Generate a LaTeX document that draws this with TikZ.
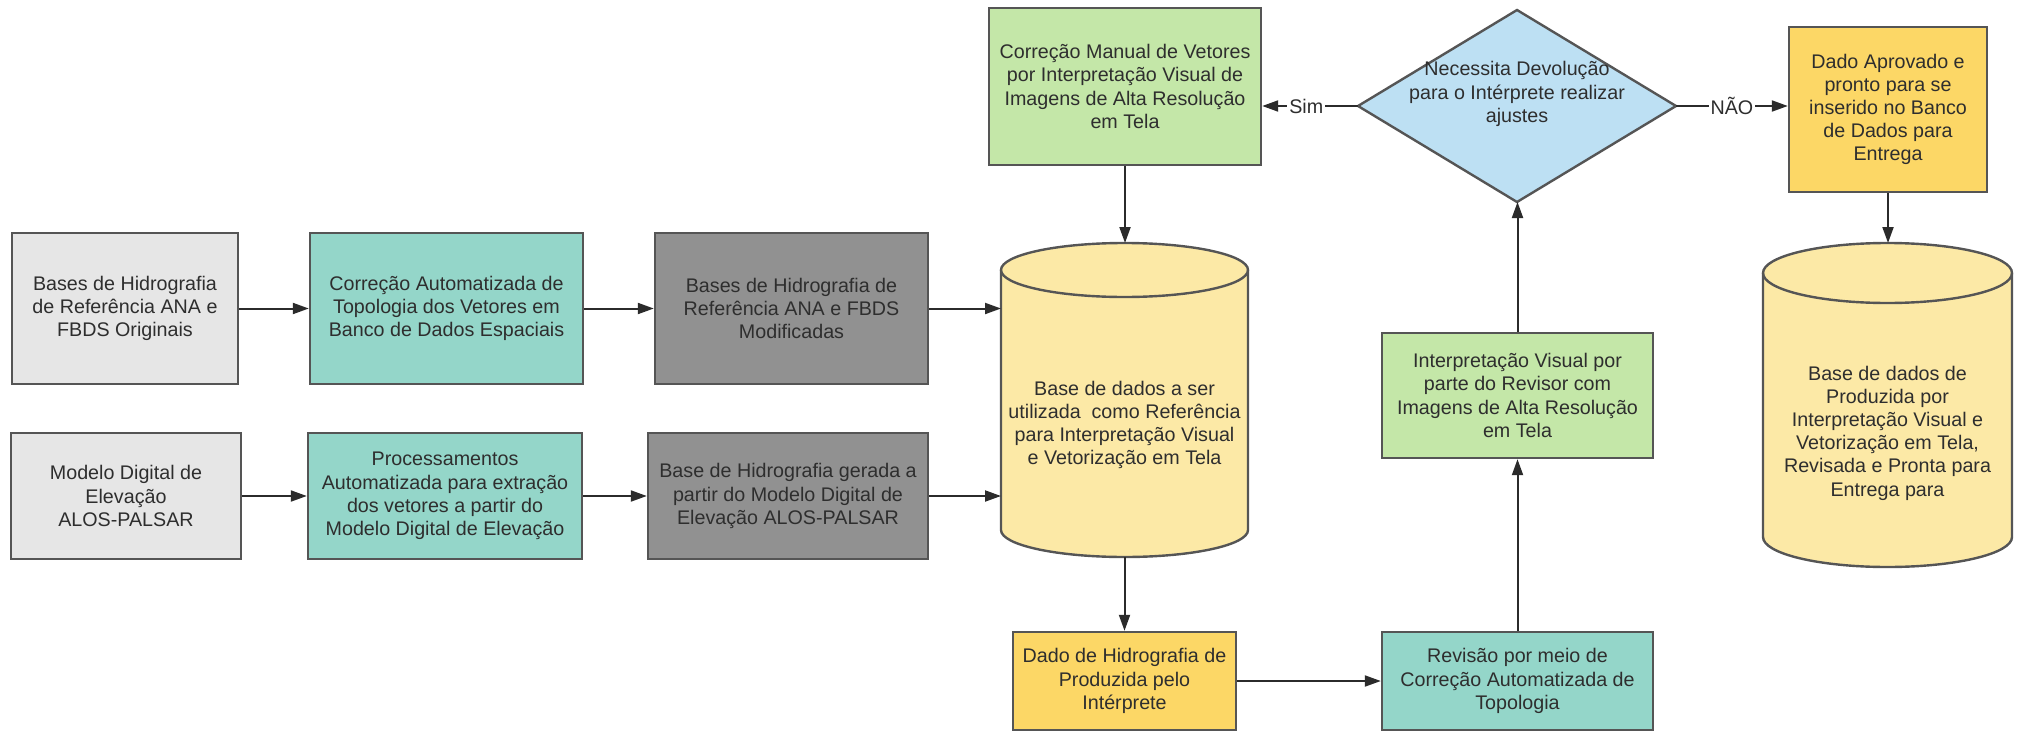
\documentclass[tikz,border=0pt]{standalone}
\usepackage{fontspec}
\setmainfont{Liberation Sans}
\usetikzlibrary{arrows.meta}
\definecolor{grayL}{HTML}{E6E6E6}
\definecolor{grayD}{HTML}{919191}
\definecolor{tealc}{HTML}{94D6C9}
\definecolor{cylY}{HTML}{FCE9A6}
\definecolor{greenc}{HTML}{C4E7A8}
\definecolor{bluec}{HTML}{BDE0F3}
\definecolor{goldc}{HTML}{FCD766}
\definecolor{bordc}{HTML}{555555}
\definecolor{linec}{HTML}{2B2B2B}
\definecolor{txtc}{HTML}{2E2E2E}
\begin{document}
\begin{tikzpicture}[x=0.5pt,y=-0.5pt,
  txt/.style={align=center, text=txtc, font=\fontsize{9.85}{11.6}\selectfont},
  box/.style={txt, draw=bordc, line width=1.2pt, inner sep=2pt},
  ghost/.style={draw=none, inner sep=0pt, outer sep=0pt},
  cyl/.style={draw=bordc, line width=1.2pt, fill=cylY},
  cylline/.style={draw=bordc, line width=1.2pt},
  arr/.style={draw=linec, line width=1pt, -{Triangle[length=8pt,width=5.5pt]}},
  lbl/.style={txt, fill=white, inner sep=1pt}
]
\useasboundingbox (0,0) rectangle (2021,733);

% left column boxes
\node[box, fill=grayL, minimum width=113pt, minimum height=75.5pt] (A) at (125,308.5)
  {Bases de Hidrografia\\de Referência ANA e\\FBDS Originais};
\node[box, fill=tealc, minimum width=136.5pt, minimum height=75.5pt] (B) at (446.5,308.5)
  {Correção Automatizada de\\Topologia dos Vetores em\\Banco de Dados Espaciais};
\node[box, fill=grayD, minimum width=136.5pt, minimum height=75.5pt] (C) at (791.5,308.5)
  {Bases de Hidrografia de\\Referência ANA e FBDS\\Modificadas};
\node[box, fill=grayL, minimum width=115pt, minimum height=63pt] (D) at (126,496)
  {Modelo Digital de\\Elevação\\ALOS-PALSAR};
\node[box, fill=tealc, minimum width=137pt, minimum height=63pt] (E) at (445,496)
  {Processamentos\\Automatizada para extração\\dos vetores a partir do\\Modelo Digital de Elevação};
\node[box, fill=grayD, minimum width=140pt, minimum height=63pt] (F) at (788,496)
  {Base de Hidrografia gerada a\\partir do Modelo Digital de\\Elevação ALOS-PALSAR};

% cylinder 1
\node[ghost, minimum width=123.5pt, minimum height=157pt] (db1) at (1124.5,400) {};
\draw[cyl] (1001,270) -- (1001,530) arc[start angle=180, end angle=360, x radius=61.75pt, y radius=13.5pt]
  -- (1248,270) arc[start angle=0, end angle=180, x radius=61.75pt, y radius=13.5pt] -- cycle;
\draw[cylline] (1001,270) arc[start angle=180, end angle=360, x radius=61.75pt, y radius=13.5pt];
\node[txt] (db1t) at (1124.5,425)
  {Base de dados a ser\\utilizada\ \ como Referência\\para Interpretação Visual\\e Vetorização em Tela};

% top middle
\node[box, fill=greenc, minimum width=136pt, minimum height=78.5pt] (G) at (1125,86.5)
  {Correção Manual de Vetores\\por Interpretação Visual de\\Imagens de Alta Resolução\\em Tela};
\node[ghost, minimum width=159pt, minimum height=96pt] (dec) at (1517,106) {};
\draw[draw=bordc, line width=1.2pt, fill=bluec] (dec.north) -- (dec.east) -- (dec.south) -- (dec.west) -- cycle;
\node[txt] (dect) at (1517,94) {Necessita Devolução\\para o Intérprete realizar\\ajustes};
\node[box, fill=goldc, minimum width=99pt, minimum height=82.5pt] (H) at (1888,109.5)
  {Dado Aprovado e\\pronto para se\\inserido no Banco\\de Dados para\\Entrega};

% cylinder 2
\node[ghost, minimum width=124.5pt, minimum height=162pt] (db2) at (1887.5,405) {};
\draw[cyl] (1763,273) -- (1763,537) arc[start angle=180, end angle=360, x radius=62.25pt, y radius=15pt]
  -- (2012,273) arc[start angle=0, end angle=180, x radius=62.25pt, y radius=15pt] -- cycle;
\draw[cylline] (1763,273) arc[start angle=180, end angle=360, x radius=62.25pt, y radius=15pt];
\node[txt] (db2t) at (1887.5,433)
  {Base de dados de\\Produzida por\\Interpretação Visual e\\Vetorização em Tela,\\Revisada e Pronta para\\Entrega para};

% review boxes
\node[box, fill=greenc, minimum width=135.5pt, minimum height=62.5pt] (I) at (1517.5,395.5)
  {Interpretação Visual por\\parte do Revisor com\\Imagens de Alta Resolução\\em Tela};
\node[box, fill=goldc, minimum width=111.5pt, minimum height=49pt] (J) at (1124.5,681)
  {Dado de Hidrografia de\\Produzida pelo\\Intérprete};
\node[box, fill=tealc, minimum width=135.5pt, minimum height=49pt] (K) at (1517.5,681)
  {Revisão por meio de\\Correção Automatizada de\\Topologia};

% connectors
\draw[arr] (A.east) -- (B.west);
\draw[arr] (B.east) -- (C.west);
\draw[arr] (C.east) -- (C.east -| db1.west);
\draw[arr] (D.east) -- (E.west);
\draw[arr] (E.east) -- (F.west);
\draw[arr] (F.east) -- (F.east -| db1.west);
\draw[arr] (G.south) -- (G.south |- db1.north);
\draw[arr] (db1.south) -- (db1.south |- J.north);
\draw[arr] (J.east) -- (K.west);
\draw[arr] (K.north) -- (I.south);
\draw[arr] (I.north) -- (I.north |- dec.south);
\draw[arr] (dec.west) -- node[lbl, pos=0.54] {Sim} (dec.west -| G.east);
\draw[arr] (dec.east) -- node[lbl, pos=0.5] {NÃO} (dec.east -| H.west);
\draw[arr] (H.south) -- (H.south |- db2.north);
\end{tikzpicture}
\end{document}
